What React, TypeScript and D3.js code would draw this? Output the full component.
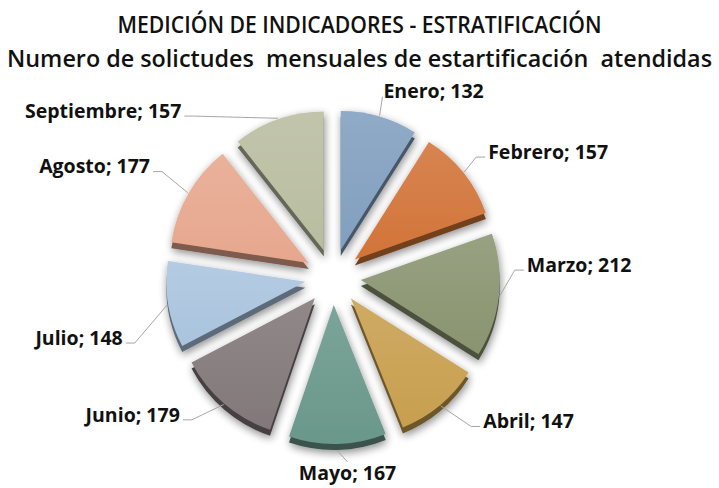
import React from 'react';
import * as d3 from 'd3';

// datos del gráfico
const months = ['Enero', 'Febrero', 'Marzo', 'Abril', 'Mayo', 'Junio', 'Julio', 'Agosto', 'Septiembre'];
const values = [132, 157, 212, 147, 167, 179, 148, 177, 157];
const colors = ['#819fbf', '#d27439', '#8a9470', '#c89f4f', '#6a988b', '#82787a', '#aac4de', '#e7a78e', '#b9bda0'];

// ajuste fino de las etiquetas (px) respecto a su posición radial
const labelShift = [[-5, 6], [-1, 0], [-5, -34], [22, -9], [9, -4], [-23, -14], [-13, 28], [-10, -10], [-86, 23]];

const W = 719;
const H = 488;
const cx = 333;
const cy = 277;
const R = 139;
const EXPLODE = 28;
const DEPTH = 6;
const LABEL_R = 200;
const FONT = "'Open Sans', 'DejaVu Sans', sans-serif";

export default function App() {
  const pie = d3.pie<number>().sort(null).value((d) => d);
  const arcs = pie(values);
  const arc = d3.arc<d3.PieArcDatum<number>>().innerRadius(0).outerRadius(R);

  const slices = arcs.map((a, i) => {
    const mid = (a.startAngle + a.endAngle) / 2;
    const dx = Math.sin(mid);
    const dy = -Math.cos(mid);
    const side = dx > 0.1 ? 1 : dx < -0.1 ? -1 : 0;
    const lx = cx + LABEL_R * dx + labelShift[i][0];
    const ly = cy + LABEL_R * dy + labelShift[i][1];
    const ex = cx + (EXPLODE + R + 1) * dx;
    const ey = cy + (EXPLODE + R + 1) * dy;
    let pts: [number, number][];
    if (side === 0) {
      pts = [[ex, ey + DEPTH], [lx, ly - 11]];
    } else {
      const yy = ly + 5;
      const end: [number, number] = [lx - 3 * side, yy];
      const elbow: [number, number] = [lx - 12 * side, yy];
      const beyond = side > 0 ? ex > elbow[0] : ex < elbow[0];
      pts = beyond ? [[ex, ey], [lx - 1 * side, ly + 6]] : [[ex, ey], elbow, end];
    }
    return {
      a,
      i,
      tx: EXPLODE * dx,
      ty: EXPLODE * dy,
      side,
      lx,
      ly,
      line: d3.line()(pts) as string,
    };
  });

  return (
    <>
      <style>{'body{margin:0}'}</style>
      <svg width={W} height={H} style={{ display: 'block', background: '#fff' }}>
        <defs>
          <filter id="sombra" x="-30%" y="-30%" width="160%" height="160%">
            <feGaussianBlur in="SourceAlpha" stdDeviation="4" />
            <feOffset dx="1" dy="3" result="blur" />
            <feComponentTransfer>
              <feFuncA type="linear" slope="0.45" />
            </feComponentTransfer>
            <feMerge>
              <feMergeNode />
              <feMergeNode in="SourceGraphic" />
            </feMerge>
          </filter>
          <linearGradient id="brillo" x1="0" y1="0" x2="0" y2="1">
            <stop offset="0" stopColor="#fff" stopOpacity="0.12" />
            <stop offset="1" stopColor="#fff" stopOpacity="0" />
          </linearGradient>
        </defs>

        <text x={W / 2} y={33} textAnchor="middle" fontFamily={FONT} fontWeight={600} fontSize={23}
          textLength={484} lengthAdjust="spacingAndGlyphs" fill="#111">
          MEDICIÓN DE INDICADORES - ESTRATIFICACIÓN
        </text>
        <text x={W / 2} y={67} textAnchor="middle" fontFamily={FONT} fontWeight={600} fontSize={23}
          textLength={705} lengthAdjust="spacingAndGlyphs" fill="#111" style={{ whiteSpace: 'pre' }}>
          {'Numero de solictudes  mensuales de estartificación  atendidas'}
        </text>

        <g transform={`translate(${cx},${cy})`}>
          {slices.map((s) => (
            <g key={months[s.i]} transform={`translate(${s.tx},${s.ty})`} filter="url(#sombra)">
              <path d={arc(s.a) as string} transform={`translate(0,${DEPTH})`} fill={d3.color(colors[s.i])!.darker(1.7).toString()} />
              <path d={arc(s.a) as string} fill={colors[s.i]} />
              <path d={arc(s.a) as string} fill="url(#brillo)" />
            </g>
          ))}
        </g>

        {slices.map((s) => (
          <g key={'lbl' + months[s.i]}>
            <path d={s.line} fill="none" stroke="#a6a6a6" strokeWidth={1} />
            <text
              x={s.lx}
              y={s.ly}
              dy="0.35em"
              textAnchor={s.side > 0 ? 'start' : s.side < 0 ? 'end' : 'middle'}
              fontFamily={FONT}
              fontWeight={700}
              fontSize={19.5}
              fill="#111"
            >
              {months[s.i]}; {values[s.i]}
            </text>
          </g>
        ))}
      </svg>
    </>
  );
}
